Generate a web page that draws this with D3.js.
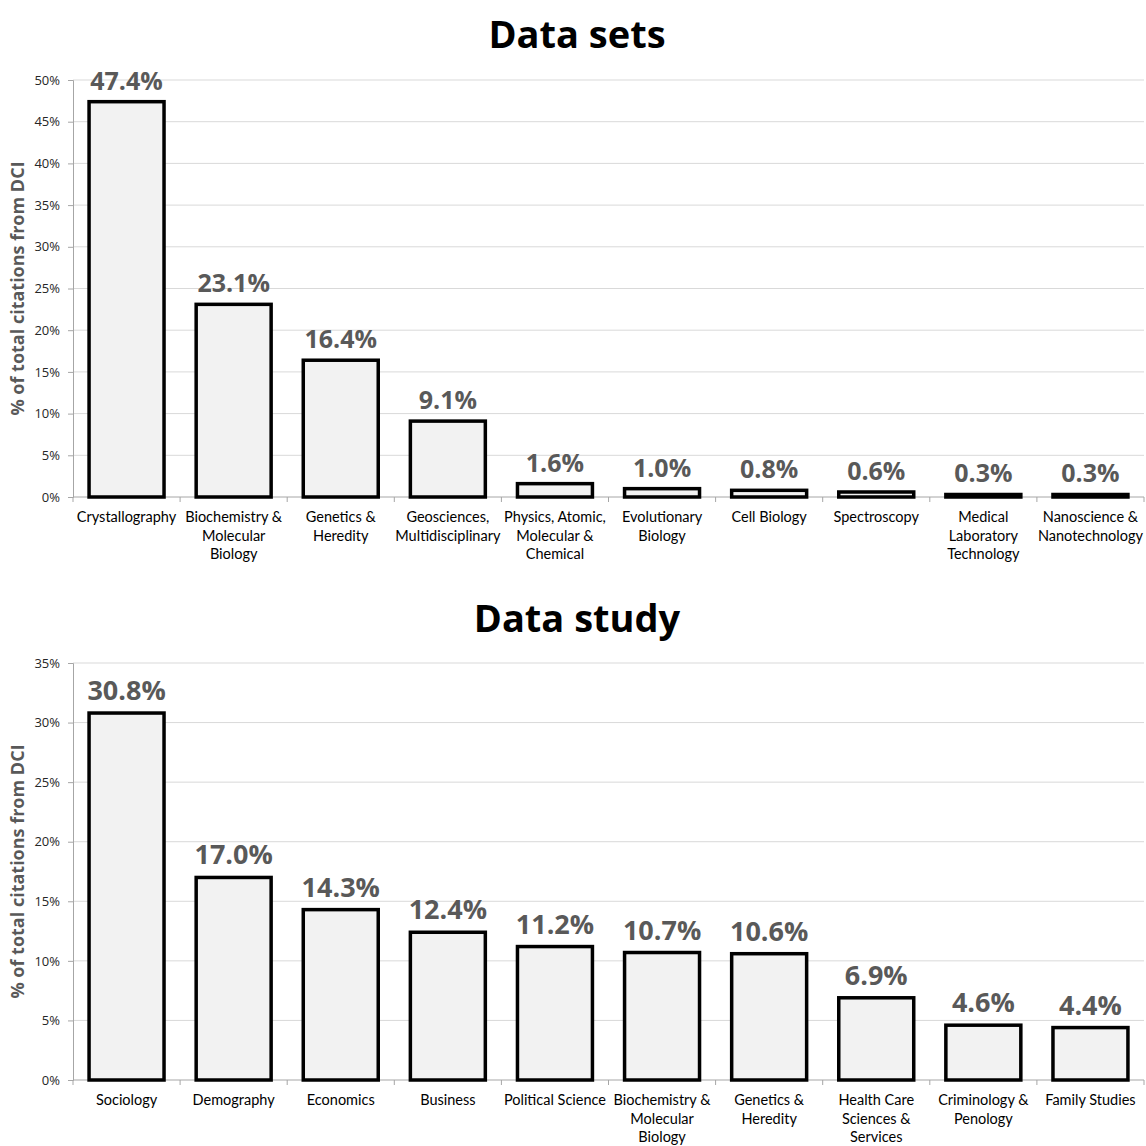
<!DOCTYPE html>
<html>
<head>
<meta charset="utf-8">
<script src="https://cdn.jsdelivr.net/npm/d3@7"></script>
<style>
  body { margin: 0; background: #fff; }
  svg { display: block; }
</style>
</head>
<body>
<div id="chart"></div>
<script>
// data
const setCategories = ["Crystallography", "Biochemistry & Molecular Biology", "Genetics & Heredity",
    "Geosciences, Multidisciplinary", "Physics, Atomic, Molecular & Chemical", "Evolutionary Biology",
    "Cell Biology", "Spectroscopy", "Medical Laboratory Technology", "Nanoscience & Nanotechnology"];
const setValues = [47.4, 23.1, 16.4, 9.1, 1.6, 1.0, 0.8, 0.6, 0.3, 0.3];
const setTicks = [0, 5, 10, 15, 20, 25, 30, 35, 40, 45, 50];

const studyCategories = ["Sociology", "Demography", "Economics", "Business", "Political Science",
    "Biochemistry & Molecular Biology", "Genetics & Heredity", "Health Care Sciences & Services",
    "Criminology & Penology", "Family Studies"];
const studyValues = [30.8, 17.0, 14.3, 12.4, 11.2, 10.7, 10.6, 6.9, 4.6, 4.4];
const studyTicks = [0, 5, 10, 15, 20, 25, 30, 35];

const W = 1146, H = 1146;
const labFont = "Lato, 'Open Sans', sans-serif";
const boldFont = "'Open Sans', Lato, sans-serif";

const svg = d3.select("#chart").append("svg")
    .attr("width", W).attr("height", H)
    .style("font-family", labFont);

const left = 73, right = 1144;

function wrap(textSel, maxW) {
    textSel.each(function () {
        const text = d3.select(this);
        const words = text.text().split(" ");
        text.text(null);
        let line = [];
        let tspan = text.append("tspan").attr("x", 0).attr("dy", 0);
        words.forEach(function (w) {
            line.push(w);
            tspan.text(line.join(" "));
            if (tspan.node().getComputedTextLength() > maxW && line.length > 1) {
                line.pop();
                tspan.text(line.join(" "));
                line = [w];
                tspan = text.append("tspan").attr("x", 0).attr("dy", "18.5px").text(w);
            }
        });
    });
}

function drawChart(opt) {
    const g = svg.append("g");

    const x = d3.scaleBand()
        .domain(opt.categories)
        .range([left, right])
        .paddingInner(0.3).paddingOuter(0.15);

    const y = d3.scaleLinear()
        .domain([0, d3.max(opt.ticks)])
        .range([opt.bottom, opt.top]);

    // title
    g.append("text")
        .attr("x", 577).attr("y", opt.titleY)
        .attr("text-anchor", "middle")
        .attr("font-family", boldFont)
        .attr("font-size", "38px").attr("font-weight", "bold")
        .attr("fill", "#000")
        .text(opt.title);

    // gridlines
    g.append("g").selectAll("line")
        .data(opt.ticks.filter(t => t > 0))
        .enter().append("line")
        .attr("x1", left).attr("x2", right)
        .attr("y1", d => y(d)).attr("y2", d => y(d))
        .attr("stroke", "#d9d9d9").attr("stroke-width", 1);

    // y axis
    const yAxis = d3.axisLeft(y).tickValues(opt.ticks)
        .tickFormat(d => d + "%").tickSize(5).tickPadding(8);
    const ya = g.append("g").attr("transform", "translate(" + left + ",0)").call(yAxis);
    ya.select(".domain").attr("stroke", "#a6a6a6");
    ya.selectAll(".tick line").attr("stroke", "#a6a6a6");
    ya.selectAll(".tick text").attr("font-size", "13px").attr("fill", "#262626")
        .attr("font-family", boldFont);

    // y label
    g.append("text")
        .attr("transform", "translate(24," + ((opt.top + opt.bottom) / 2) + ") rotate(-90)")
        .attr("text-anchor", "middle")
        .attr("font-family", boldFont)
        .attr("font-size", "18px").attr("font-weight", "bold")
        .attr("fill", "#595959")
        .text("% of total citations from DCI");

    // x axis line + band ticks
    const bounds = d3.range(opt.categories.length + 1).map(i => left + i * (right - left) / opt.categories.length);
    g.append("line")
        .attr("x1", left).attr("x2", right)
        .attr("y1", opt.bottom).attr("y2", opt.bottom)
        .attr("stroke", "#a6a6a6");
    g.append("g").selectAll("line")
        .data(bounds)
        .enter().append("line")
        .attr("x1", d => d).attr("x2", d => d)
        .attr("y1", opt.bottom).attr("y2", opt.bottom + 5)
        .attr("stroke", "#a6a6a6");

    // category labels
    const labs = g.append("g").selectAll("text")
        .data(opt.categories)
        .enter().append("text")
        .attr("transform", d => "translate(" + (x(d) + x.bandwidth() / 2) + "," + (opt.bottom + 25) + ")")
        .attr("text-anchor", "middle")
        .attr("font-size", "14.5px").attr("fill", "#000")
        .text(d => d);
    wrap(labs, 108);

    // bars
    g.append("g").selectAll("rect")
        .data(opt.values)
        .enter().append("rect")
        .attr("x", (d, i) => x(opt.categories[i]))
        .attr("y", d => y(d))
        .attr("width", x.bandwidth())
        .attr("height", d => opt.bottom - y(d))
        .attr("fill", "#f2f2f2")
        .attr("stroke", "#000").attr("stroke-width", 3.5);

    // value labels
    g.append("g").selectAll("text")
        .data(opt.values)
        .enter().append("text")
        .attr("x", (d, i) => x(opt.categories[i]) + x.bandwidth() / 2)
        .attr("y", d => y(d) - opt.labelGap)
        .attr("text-anchor", "middle")
        .attr("font-family", boldFont)
        .attr("font-size", opt.labelSize).attr("font-weight", "bold")
        .attr("fill", "#595959")
        .text(d => d.toFixed(1) + "%");
}

drawChart({
    title: "Data sets", titleY: 48,
    categories: setCategories, values: setValues, ticks: setTicks,
    top: 80, bottom: 497, labelSize: "25px", labelGap: 12
});

drawChart({
    title: "Data study", titleY: 632,
    categories: studyCategories, values: studyValues, ticks: studyTicks,
    top: 663, bottom: 1080, labelSize: "27px", labelGap: 13
});
</script>
</body>
</html>
